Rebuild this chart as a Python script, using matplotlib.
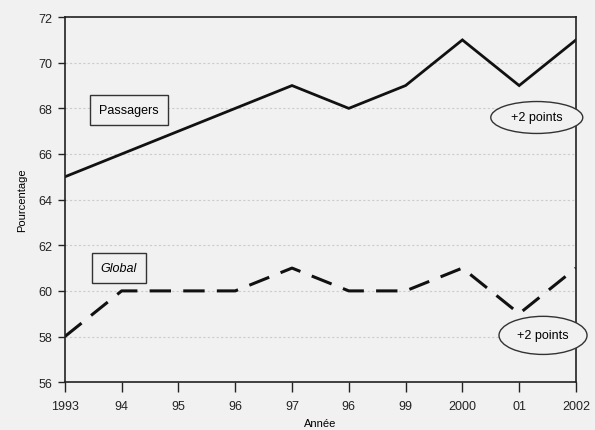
import matplotlib
matplotlib.use('Agg')
from matplotlib import pyplot as plt
from matplotlib.patches import Ellipse

plt.rcParams['font.family'] = ['Liberation Sans Narrow', 'Liberation Sans', 'DejaVu Sans']

annees = [1993, 1994, 1995, 1996, 1997, 1998, 1999, 2000, 2001, 2002]
etiquettes = ['1993', '94', '95', '96', '97', '96', '99', '2000', '01', '2002']
passagers = [65, 66, 67, 68, 69, 68, 69, 71, 69, 71]
global_ = [58, 60, 60, 60, 61, 60, 60, 61, 59, 61]
y_ticks = [56, 58, 60, 62, 64, 66, 68, 70, 72]

fig = plt.figure(figsize=(5.95, 4.31), dpi=100)
fig.patch.set_facecolor('#f1f1f1')
ax = fig.add_axes([0.109, 0.111, 0.859, 0.847])
ax.set_facecolor('#f1f1f1')

for v in y_ticks[1:-1]:
    ax.axhline(v, color='#cccccc', lw=0.8, ls=(0, (2, 2)), zorder=0)

ax.plot(annees, passagers, color='#111111', lw=2.0, solid_joinstyle='miter')
ax.plot(annees, global_, color='#111111', lw=2.2, dashes=(7, 4))

ax.set_xlim(1993, 2002)
ax.set_ylim(56, 72)
ax.set_xticks(annees)
ax.set_xticklabels(etiquettes)
ax.set_yticks(y_ticks)
ax.tick_params(axis='x', direction='out', length=7, width=1, pad=6, labelsize=9, colors='#222222')
ax.tick_params(axis='y', direction='out', length=5, width=1, pad=4, labelsize=9, colors='#222222')
for s in ax.spines.values():
    s.set_linewidth(1.2)
    s.set_color('#222222')

ax.set_ylabel('Pourcentage', fontsize=8, labelpad=8)
ax.set_xlabel('Année', fontsize=8, labelpad=4)

box = dict(boxstyle='square,pad=0.7', fc='#f1f1f1', ec='#333333', lw=1)
ax.text(1994.13, 67.92, 'Passagers', fontsize=9, ha='center', va='center', bbox=box)
ax.text(1993.95, 61.0, 'Global', fontsize=9, style='italic', ha='center', va='center', bbox=box)

for (xc, yc, w, h) in [(2001.31, 67.6, 1.62, 1.4), (2001.42, 58.05, 1.55, 1.67)]:
    ax.add_patch(Ellipse((xc, yc), w, h, fc='#f1f1f1', ec='#333333', lw=1, clip_on=False, zorder=3))
    ax.text(xc, yc, '+2 points', fontsize=9, ha='center', va='center', zorder=4)

fig.savefig('out.png', dpi=100, facecolor=fig.get_facecolor())
